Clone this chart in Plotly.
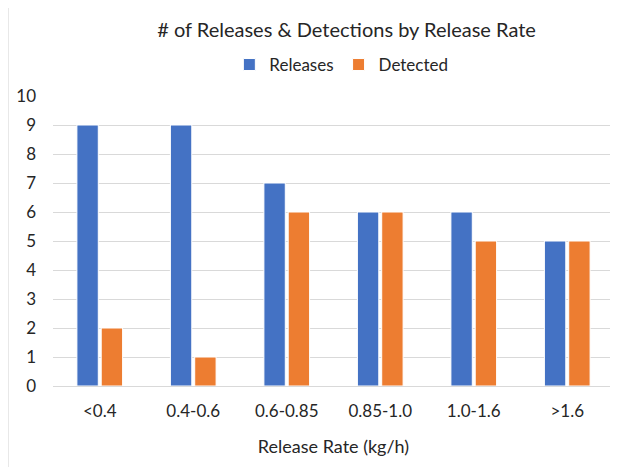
import plotly.graph_objects as go

categories = ["<0.4", "0.4-0.6", "0.6-0.85", "0.85-1.0", "1.0-1.6", ">1.6"]
releases = [9, 9, 7, 6, 6, 5]
detected = [2, 1, 6, 6, 5, 5]
y_ticks = list(range(0, 11))

FONT = "Lato"
TXT = "#262626"

fig = go.Figure()
fig.add_trace(go.Bar(x=categories, y=releases, name="Releases",
                     marker=dict(color="#4472C4", line=dict(color="white", width=1))))
fig.add_trace(go.Bar(x=categories, y=detected, name="Detected",
                     marker=dict(color="#ED7D31", line=dict(color="white", width=1))))

fig.update_layout(
    width=610, height=459,
    margin=dict(l=45, r=4, t=88, b=81),
    paper_bgcolor="white", plot_bgcolor="white",
    font=dict(family=FONT, color=TXT, size=16),
    barmode="group", bargap=0.48, bargroupgap=0.12,
    title=dict(text="# of Releases & Detections by Release Rate",
               x=0.555, xanchor="center", y=0.952, yanchor="middle",
               font=dict(size=20, color=TXT, family=FONT)),
    legend=dict(orientation="h", x=0.514, xanchor="center", y=1.107, yanchor="middle",
                font=dict(size=17, color=TXT), traceorder="normal",
                itemwidth=30, bgcolor="rgba(0,0,0,0)"),
    showlegend=True,
)
fig.update_xaxes(showgrid=False, showline=True, linecolor="#d9d9d9", linewidth=1,
                 ticks="", ticklabelstandoff=10,
                 tickfont=dict(size=17, color=TXT),
                 title=dict(text="Release Rate (kg/h)", standoff=19,
                            font=dict(size=18, color=TXT)))
fig.update_yaxes(range=[0, 10], tickvals=y_ticks, showgrid=True, gridcolor="#d9d9d9",
                 gridwidth=1, zeroline=False, showline=False, ticks="",
                 ticklabelstandoff=16, tickfont=dict(size=17, color=TXT))

fig.add_shape(type="line", xref="paper", yref="paper",
              x0=-0.08, x1=-0.08, y0=-0.3, y1=1.35,
              line=dict(color="#d9d9d9", width=1))

fig.write_html("out.html")
